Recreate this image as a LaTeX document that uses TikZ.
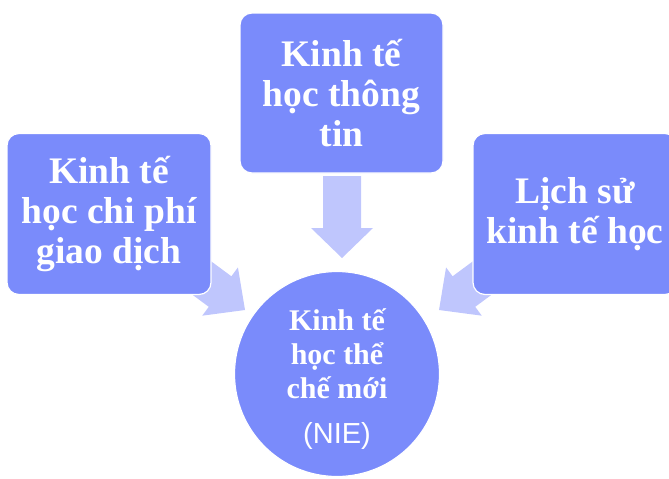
\documentclass[tikz,border=0pt]{standalone}
\usepackage{fontspec}
\setmainfont{Liberation Serif}
\newfontfamily\niesans{Liberation Sans}
\definecolor{boxblue}{RGB}{122,139,251}
\definecolor{arrowblue}{RGB}{191,198,253}
\begin{document}
\begin{tikzpicture}[x=1pt,y=1pt,
  topic/.style={draw=white, line width=1.2pt, fill=boxblue, rounded corners=12pt,
    minimum width=204pt, minimum height=161pt, text=white, align=center,
    font=\bfseries\fontsize{37.5}{40}\selectfont, inner sep=0pt},
  blockarrow/.style={fill=arrowblue, draw=none},
  circtext/.style={anchor=base, text=white, inner sep=0pt,
    font=\bfseries\fontsize{30}{34}\selectfont}]
\useasboundingbox (0,0) rectangle (669,-479);
% block arrows
\begin{scope}[shift={(245,-310)}, rotate=-36.5]
  \path[blockarrow] (0,0) -- (-31,30) -- (-31,19) -- (-100,19) -- (-100,-19) -- (-31,-19) -- (-31,-30) -- cycle;
\end{scope}
\begin{scope}[shift={(439,-310)}, rotate=-143.5]
  \path[blockarrow] (0,0) -- (-31,30) -- (-31,19) -- (-100,19) -- (-100,-19) -- (-31,-19) -- (-31,-30) -- cycle;
\end{scope}
\begin{scope}[shift={(342,-258)}, rotate=-90]
  \path[blockarrow] (0,0) -- (-30,31) -- (-30,19) -- (-82,19) -- (-82,-19) -- (-30,-19) -- (-30,-31) -- cycle;
\end{scope}
% boxes
\node[topic] (tcost) at (109,-214) {Kinh tế\\học chi phí\\giao dịch};
\node[topic, minimum width=203pt, minimum height=160pt] (info) at (341.5,-93) {Kinh tế\\học thông\\tin};
\node[topic] (hist) at (575,-214) {Lịch sử\\kinh tế học};
% circle
\node[circle, fill=boxblue, draw=white, line width=1.2pt, minimum size=205pt, inner sep=0pt] (nie) at (337,-374) {};
\node[circtext] (n1) at (337,-330) {Kinh tế};
\node[circtext] (n2) at (337,-364) {học thể};
\node[circtext] (n3) at (337,-398) {chế mới};
\node[anchor=base, text=white, inner sep=0pt, font=\niesans\fontsize{29}{34}\selectfont] (n4) at (337,-443) {(NIE)};
\end{tikzpicture}
\end{document}
